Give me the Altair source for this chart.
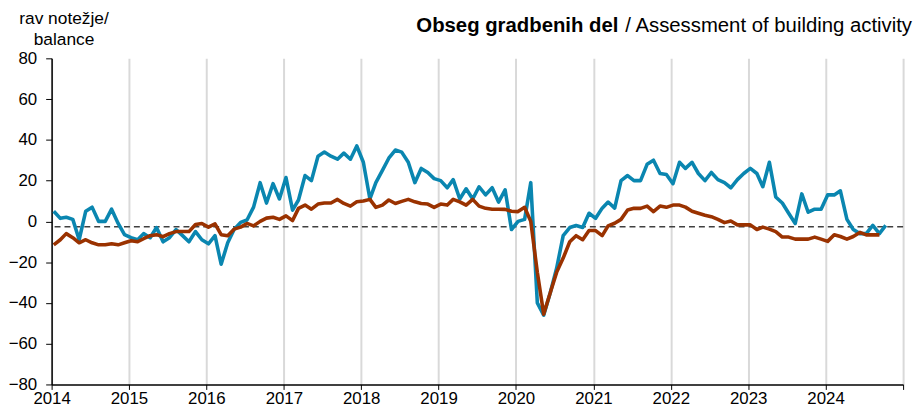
import altair as alt
import pandas as pd

# Monthly survey balance, Jan 2014 - Oct 2024
blue = [
    5, 1.5, 2, 1, -9, 5, 7, 0, 0, 6, -1, -6.5,
    -8, -9, -6, -8, -3, -10, -8, -4, -7, -10, -5, -9,
    -11, -7, -21, -10.5, -4, -0.5, 0.7, 7, 19, 9, 18.5, 11,
    21.5, 5.5, 10.5, 22.5, 20, 32, 34, 32, 30.5, 33.5, 30.5, 37,
    29, 11, 19, 25, 31, 35, 34, 29, 19, 26, 24, 21,
    20, 16.5, 20.5, 11, 16, 11, 17, 13, 16.5, 9.5, 15.5, -4,
    0, 1, 19, -40, -46, -35, -23, -7, -3, -2, -3, 4,
    1.5, 6.5, 9.5, 6.5, 20, 22.5, 20, 20, 28, 30, 23.5, 23,
    18.5, 29, 26, 29, 23.5, 20, 24, 20.5, 19, 16.5, 20.5, 23.5,
    26, 23.5, 17, 29, 12, 9, 4, -1, 13.5, 4.5, 6, 6,
    13, 13, 15, 1, -4, -6, -6, -2, -6, -2,
]
# Trend series, Jan 2014 - Sep 2024
brown = [
    -11.5, -9, -6, -8, -10.5, -9, -10.5, -11.5, -11.5, -11, -11.5, -10.5,
    -9.5, -10, -8.5, -7, -6.5, -7.5, -6, -5, -5, -5, -1.5, -1,
    -2.8, -1.2, -6.5, -7, -3.8, -2.8, -1, -2.2, 0, 1.6, 2, 1,
    2.7, 0.4, 6.4, 8, 6, 8.5, 9, 9, 10.8, 8.8, 7.5, 9.6,
    10, 10.8, 6.9, 8, 10.5, 8.8, 9.8, 10.8, 9.6, 8.8, 8.5, 6.9,
    8.5, 8, 10.8, 9.6, 8, 10.8, 7.5, 6.4, 6, 6, 5.9, 5,
    4.8, 6.9, 0, -25, -45.5, -35, -25, -18, -10, -7, -9, -4.5,
    -4.5, -7, -2.2, -0.9, 1, 5.6, 6.4, 6.4, 7.5, 4.8, 7.5, 6.9,
    8, 8, 7, 5, 4, 3, 2.3, 1, -0.6, 0.2, -1.7, -1.7,
    -1.7, -4, -2.8, -3.8, -5, -7.7, -7.7, -8.7, -8.7, -8.7, -7.7, -8.7,
    -9.8, -6.6, -7.4, -8.7, -7.4, -5.4, -6.6, -6.6, -6.6,
]
average = [-2.6]
years = list(range(2014, 2026))
y_ticks = list(range(-80, 81, 20))

title_bold = "Obseg gradbenih del"
title_rest = "/ Assessment of building activity"
y_title = ["rav notežje/", "balance"]

months = pd.date_range("2014-01-01", periods=len(blue), freq="MS") + pd.Timedelta(days=10)
df_blue = pd.DataFrame({"date": months, "value": blue})
df_brown = pd.DataFrame({"date": months[: len(brown)], "value": brown})
df_avg = pd.DataFrame({"value": average})

FONT = "Liberation Sans, Arial, sans-serif"
TSIZE = 20.5

x_scale = alt.Scale(domain=[alt.DateTime(year=2014, month=1, date=1),
                            alt.DateTime(year=2025, month=1, date=1)])
y_scale = alt.Scale(domain=[-80, 80], nice=False, zero=False)

x_axis = alt.Axis(
    values=[alt.DateTime(year=y, month=1, date=1) for y in years],
    format="%Y",
    labelExpr="year(datum.value) >= 2025 ? '' : datum.label",
    grid=True, gridColor="#D9D9D9", gridWidth=2,
    domainColor="black", domainWidth=1.5,
    tickColor="black", tickSize=5, tickWidth=1,
    labelFont=FONT, labelFontSize=17, labelColor="black",
    labelPadding=1, labelFlush=False, labelOverlap=False,
    title=None,
)
y_axis = alt.Axis(
    values=y_ticks, grid=False,
    domainColor="black", domainWidth=1.5,
    tickColor="black", tickSize=6, tickWidth=1,
    labelFont=FONT, labelFontSize=17, labelColor="black", labelPadding=9,
    title=y_title, titleAngle=0, titleAlign="center", titleBaseline="alphabetic",
    titleX=12, titleY=-35, titleFont=FONT, titleFontSize=17.5,
    titleFontWeight="normal", titleColor="black", titleLineHeight=21,
)

blue_line = alt.Chart(df_blue).mark_line(color="#0A86B0", strokeWidth=3.6, strokeJoin="round").encode(
    x=alt.X("date:T", scale=x_scale, axis=x_axis),
    y=alt.Y("value:Q", scale=y_scale, axis=y_axis),
)
brown_line = alt.Chart(df_brown).mark_line(color="#9A3200", strokeWidth=3.6, strokeJoin="round").encode(
    x=alt.X("date:T", scale=x_scale),
    y=alt.Y("value:Q", scale=y_scale),
)
avg_rule = alt.Chart(df_avg).mark_rule(color="#404040", strokeWidth=1.5, strokeDash=[6, 4]).encode(
    y=alt.Y("value:Q", scale=y_scale),
)

t_rest = alt.Chart(pd.DataFrame({"t": [title_rest]})).mark_text(
    align="right", baseline="alphabetic", font=FONT, fontSize=TSIZE, color="black"
).encode(x=alt.value(868), y=alt.value(-27), text="t:N")
t_bold = alt.Chart(pd.DataFrame({"t": [title_bold]})).mark_text(
    align="right", baseline="alphabetic", font=FONT, fontSize=TSIZE, fontWeight="bold", color="black"
).encode(x=alt.value(868 - 14.45 * TSIZE), y=alt.value(-27), text="t:N")

chart = alt.layer(avg_rule, blue_line, brown_line, t_rest, t_bold).properties(
    width=859, height=329,
    autosize=alt.AutoSizeParams(type="none"),
    padding={"left": 44, "top": 49, "right": 12, "bottom": 25},
    background="white",
).configure_view(stroke=None)

chart.save("out.html", embed_options={"renderer": "svg", "actions": False})
